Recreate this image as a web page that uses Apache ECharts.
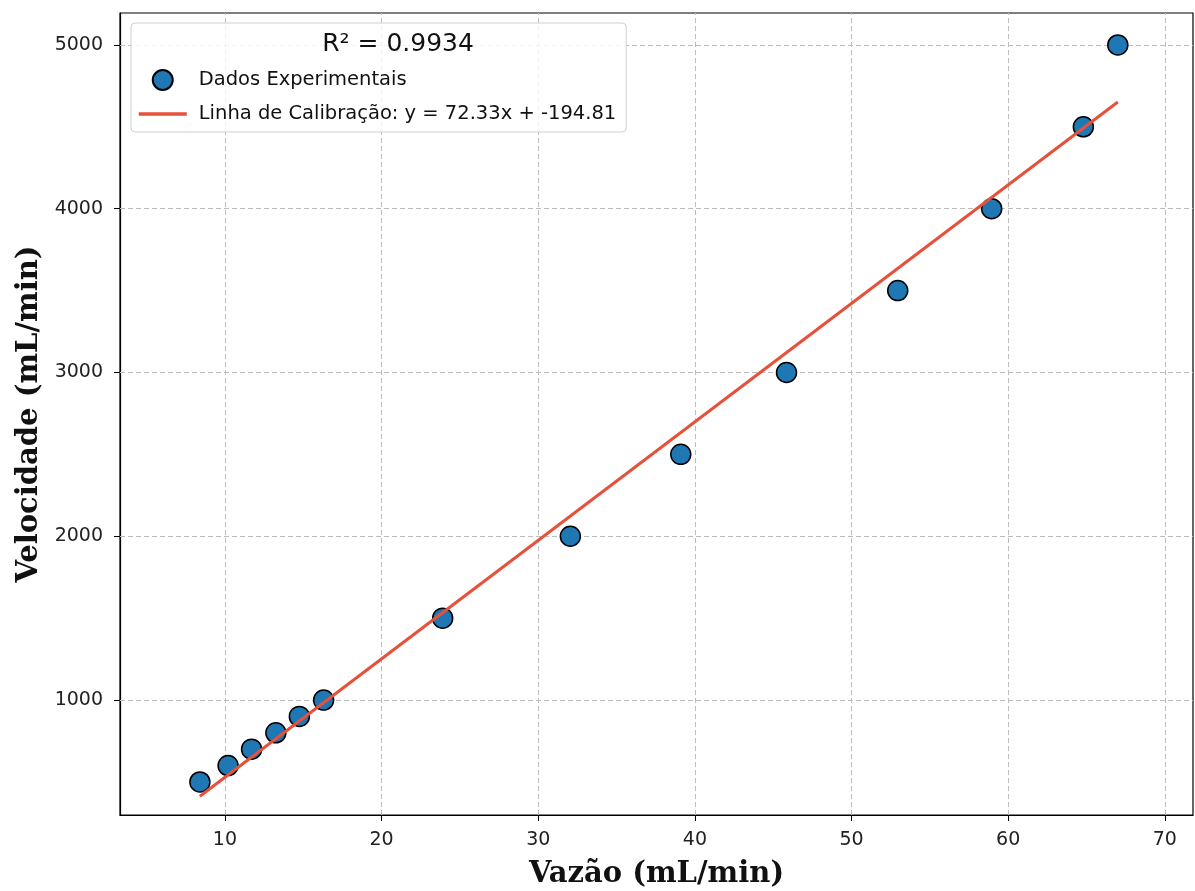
<!DOCTYPE html>
<html>
<head>
<meta charset="utf-8">
<script src="https://cdn.jsdelivr.net/npm/echarts@6/dist/echarts.min.js"></script>
<style>
html, body { margin: 0; padding: 0; background: #fff; }
#chart { width: 1195px; height: 891px; }
</style>
</head>
<body>
<div id="chart"></div>
<script>
// dados experimentais
var vazao = [8.4, 10.2, 11.7, 13.25, 14.75, 16.3, 23.9, 32.05, 39.1, 45.85, 52.95, 58.95, 64.8, 67.0];
var velocidade = [500, 600, 700, 800, 900, 1000, 1500, 2000, 2500, 3000, 3500, 4000, 4500, 5000];
var slope = 72.33;
var intercept = -194.81;
var r2 = '0.9934';
var xTicks = [10, 20, 30, 40, 50, 60, 70];
var yTicks = [1000, 2000, 3000, 4000, 5000];

var pontos = vazao.map(function (x, i) { return [x, velocidade[i]]; });
var xa = Math.min.apply(null, vazao), xb = Math.max.apply(null, vazao);
var linha = [[xa, slope * xa + intercept], [xb, slope * xb + intercept]];
var nomeLinha = 'Linha de Calibração: y = ' + slope.toFixed(2) + 'x + ' + intercept.toFixed(2);

// linhas de grade só nos ticks principais
var grade = xTicks.map(function (v) { return { xAxis: v }; })
    .concat(yTicks.map(function (v) { return { yAxis: v }; }));

var myChart = echarts.init(document.getElementById('chart'));
var option = {
    animation: false,
    textStyle: { fontFamily: 'DejaVu Sans' },
    grid: {
        left: 120, right: 2, top: 13, bottom: 76,
        outerBoundsMode: 'none', containLabel: false,
        show: true, borderColor: '#000', borderWidth: 1.2, backgroundColor: '#fff'
    },
    title: {
        text: 'R² = ' + r2,
        left: 393, top: 27, textAlign: 'center',
        textStyle: { fontSize: 25, fontWeight: 'normal', color: '#111', fontFamily: 'DejaVu Sans' }
    },
    legend: {
        orient: 'vertical',
        left: 131, top: 23,
        padding: [46, 10, 8, 6],
        itemGap: 13,
        itemWidth: 48, itemHeight: 20,
        borderColor: '#d0d0d0', borderWidth: 1, borderRadius: 4,
        backgroundColor: 'rgba(255,255,255,0.8)',
        textStyle: { fontSize: 19.5, color: '#111', fontFamily: 'DejaVu Sans', padding: [0, 0, 0, 7] },
        data: [
            { name: 'Dados Experimentais', icon: 'circle' },
            {
                name: nomeLinha,
                itemStyle: { color: 'rgba(0,0,0,0)', borderWidth: 0 },
                lineStyle: { width: 3.5 }
            }
        ]
    },
    xAxis: {
        type: 'value',
        min: 3.3, max: 71.8,
        name: 'Vazão (mL/min)',
        nameLocation: 'middle', nameGap: 45,
        nameTextStyle: { fontFamily: 'DejaVu Serif', fontWeight: 'bold', fontSize: 29, color: '#111' },
        axisLine: { show: true, onZero: false, lineStyle: { color: '#000', width: 1.2 } },
        axisTick: { show: true, customValues: xTicks, length: 6, lineStyle: { color: '#000' } },
        axisLabel: { customValues: xTicks, fontSize: 19, color: '#222', margin: 16 },
        splitLine: { show: false }
    },
    yAxis: {
        type: 'value',
        min: 298, max: 5195,
        name: 'Velocidade (mL/min)',
        nameLocation: 'middle', nameGap: 76, nameRotate: 90,
        nameTextStyle: { fontFamily: 'DejaVu Serif', fontWeight: 'bold', fontSize: 29, color: '#111' },
        axisLine: { show: true, onZero: false, lineStyle: { color: '#000', width: 1.2 } },
        axisTick: { show: true, customValues: yTicks, length: 6, lineStyle: { color: '#000' } },
        axisLabel: {
            customValues: yTicks, fontSize: 19, color: '#222', margin: 17,
            formatter: function (v) { return String(v); }
        },
        splitLine: { show: false }
    },
    series: [
        {
            name: 'Dados Experimentais',
            type: 'scatter',
            symbolSize: 20,
            z: 3,
            itemStyle: { color: '#1f77b4', borderColor: '#000', borderWidth: 1.5, opacity: 1 },
            data: pontos
        },
        {
            name: nomeLinha,
            type: 'line',
            symbol: 'none',
            z: 4,
            color: '#e5513a',
            lineStyle: { color: '#e5513a', width: 3 },
            data: linha,
            markLine: {
                silent: true,
                symbol: 'none',
                z: 1,
                label: { show: false },
                emphasis: { disabled: true },
                lineStyle: { color: '#bdbdbd', type: [5, 3], width: 1 },
                data: grade
            }
        }
    ]
};
myChart.setOption(option);
</script>
</body>
</html>
